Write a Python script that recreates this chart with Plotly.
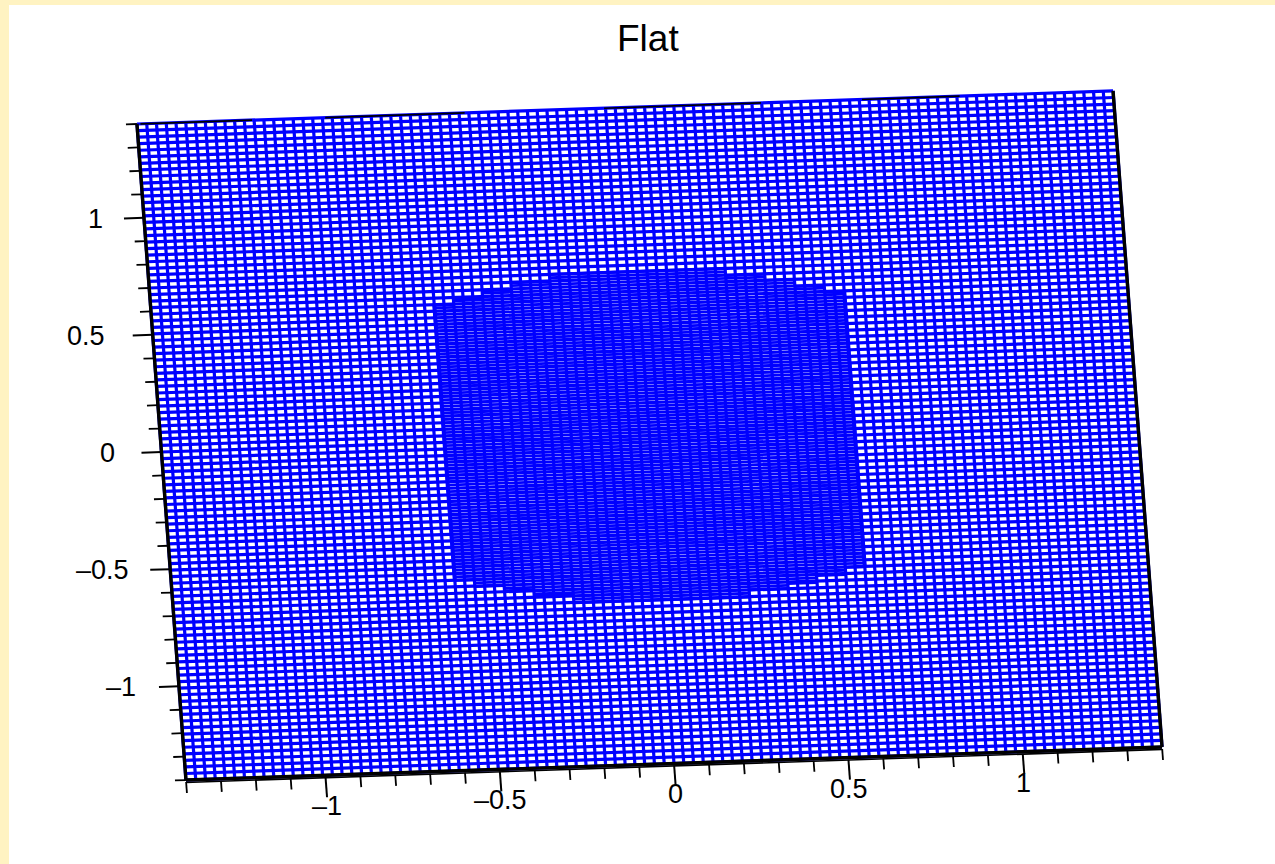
import numpy as np
import plotly.graph_objects as go

title = "Flat"
axis_min, axis_max = -1.4, 1.4
mesh_cells = 100
x_major = [-1, -0.5, 0, 0.5, 1]
x_major_labels = ["–1", "–0.5", "0", "0.5", "1"]
y_major = [1, 0.5, 0, -0.5, -1]
y_major_labels = ["1", "0.5", "0", "–0.5", "–1"]
minor_ticks = [-1.4, -1.3, -1.2, -1.1, -0.9, -0.8, -0.7, -0.6, -0.4, -0.3, -0.2, -0.1,
               0.1, 0.2, 0.3, 0.4, 0.6, 0.7, 0.8, 0.9, 1.1, 1.2, 1.3, 1.4]
# dense central patch, in stepped columns
patch_edges = [-0.588, -0.532, -0.448, -0.364, -0.252, 0.252, 0.364, 0.448, 0.532, 0.588]
patch_top = [0.585, 0.61, 0.64, 0.67, 0.70, 0.67, 0.644, 0.613, 0.584]
patch_bottom = [-0.589, -0.618, -0.64, -0.665, -0.702, -0.671, -0.65, -0.62, -0.59]
# stretches of the top edge where the black frame shows through the mesh
top_frame_spans = [(-1.39, -1.07), (-0.86, -0.46), (-0.06, 0.39), (0.68, 0.96)]

BLUE = "#0000ff"
BLACK = "#000000"
CREAM = "#fff3c2"
FONT = "Liberation Sans"
y_label_nudge = [3, -4, -2, 3, 1]

# view of the 3D box seen from above: data units -> screen axes
CX, CY = 649.5, 435.5
XV = (348.6, -11.8)
YV = (-17.5, -234.3)


def proj(x, y):
    return CX + x * XV[0] + y * YV[0], CY + x * XV[1] + y * YV[1]


def unit(v):
    n = (v[0] ** 2 + v[1] ** 2) ** 0.5
    return v[0] / n, v[1] / n


def segs(pairs):
    xs, ys = [], []
    for (x0, y0), (x1, y1) in pairs:
        a, b = proj(x0, y0), proj(x1, y1)
        xs += [a[0], b[0], None]
        ys += [a[1], b[1], None]
    return xs, ys


def line_trace(pairs, color, width):
    xs, ys = segs(pairs)
    return go.Scatter(x=xs, y=ys, mode="lines", line=dict(color=color, width=width),
                      hoverinfo="skip", showlegend=False)


grid = np.linspace(axis_min, axis_max, mesh_cells + 1)
step = grid[1] - grid[0]

fig = go.Figure()

# mesh
mesh_pairs = [((g, axis_min), (g, axis_max)) for g in grid]
mesh_pairs += [((axis_min, g), (axis_max, g)) for g in grid]
fig.add_trace(line_trace(mesh_pairs, BLUE, 3.2))

# dense patch rows (half a cell off the mesh)
patch_pairs = []
for i in range(len(patch_top)):
    for g in grid[:-1] + step / 2:
        if patch_bottom[i] <= g <= patch_top[i]:
            patch_pairs.append(((patch_edges[i], g), (patch_edges[i + 1], g)))
    patch_pairs.append(((patch_edges[i], patch_top[i]), (patch_edges[i + 1], patch_top[i])))
    patch_pairs.append(((patch_edges[i], patch_bottom[i]), (patch_edges[i + 1], patch_bottom[i])))
fig.add_trace(line_trace(patch_pairs, BLUE, 2.8))
# fill the outer wall of the patch
wall_pairs = [((patch_edges[0], patch_bottom[0]), (patch_edges[0], patch_top[0])),
              ((patch_edges[-1], patch_bottom[-1]), (patch_edges[-1], patch_top[-1]))]
fig.add_trace(line_trace(wall_pairs, BLUE, 4))

# frame
frame = [((axis_min, axis_min), (axis_min, axis_max)),
         ((axis_max, axis_min), (axis_max, axis_max)),
         ((axis_min, axis_min), (axis_max, axis_min))]
fig.add_trace(line_trace(frame, BLACK, 3.4))
fig.add_trace(line_trace([((a, axis_max), (b, axis_max)) for a, b in top_frame_spans], BLACK, 1.6))

# ticks
tick_down = unit((-YV[0], -YV[1]))
tick_left = unit((-XV[0], -XV[1]))


def tick_traces(values, length, width):
    xs, ys = [], []
    for v in values:
        a = proj(v, axis_min)
        a = (a[0] + tick_down[0] * 2, a[1] + tick_down[1] * 2)
        xs += [a[0], a[0] + tick_down[0] * length, None]
        ys += [a[1], a[1] + tick_down[1] * length, None]
        b = proj(axis_min, v)
        xs += [b[0], b[0] + tick_left[0] * length, None]
        ys += [b[1], b[1] + tick_left[1] * length, None]
    return go.Scatter(x=xs, y=ys, mode="lines", line=dict(color=BLACK, width=width),
                      hoverinfo="skip", showlegend=False)


fig.add_trace(tick_traces(x_major, 20, 2))
fig.add_trace(tick_traces(minor_ticks, 11, 1.8))
# thin axis line beneath the frame
a, b = proj(axis_min, axis_min), proj(axis_max, axis_min)
fig.add_trace(go.Scatter(x=[a[0], b[0]], y=[a[1] + 2.4, b[1] + 2.4], mode="lines",
                         line=dict(color=BLACK, width=1.6), hoverinfo="skip", showlegend=False))

# tick labels
annotations = []
for v, lab in zip(x_major, x_major_labels):
    p = proj(v, axis_min)
    annotations.append(dict(x=p[0] + tick_down[0] * 16, y=p[1] + tick_down[1] * 16, text=lab,
                            xanchor="center", yanchor="top"))
for v, lab, nudge in zip(y_major, y_major_labels, y_label_nudge):
    p = proj(axis_min, v)
    annotations.append(dict(x=p[0] + tick_left[0] * 44 + nudge, y=p[1] + 1, text=lab,
                            xanchor="right", yanchor="middle"))
for an in annotations:
    an.update(xref="x", yref="y", showarrow=False, borderpad=0, borderwidth=0,
              font=dict(family=FONT, size=27, color=BLACK))
annotations.append(dict(x=648, y=38, xref="x", yref="y", text=title, showarrow=False,
                        xanchor="center", yanchor="middle",
                        font=dict(family=FONT, size=37, color=BLACK)))

fig.update_layout(
    width=1275, height=864, margin=dict(l=9, r=0, t=5, b=0, pad=0), autosize=False,
    paper_bgcolor=CREAM, plot_bgcolor="#ffffff", showlegend=False, annotations=annotations,
    xaxis=dict(range=[9, 1275], visible=False, fixedrange=True),
    yaxis=dict(range=[864, 5], visible=False, fixedrange=True),
)
fig.write_html("out.html", config=dict(displayModeBar=False),
               post_script="document.body.style.margin='0';document.body.style.overflow='hidden';")
